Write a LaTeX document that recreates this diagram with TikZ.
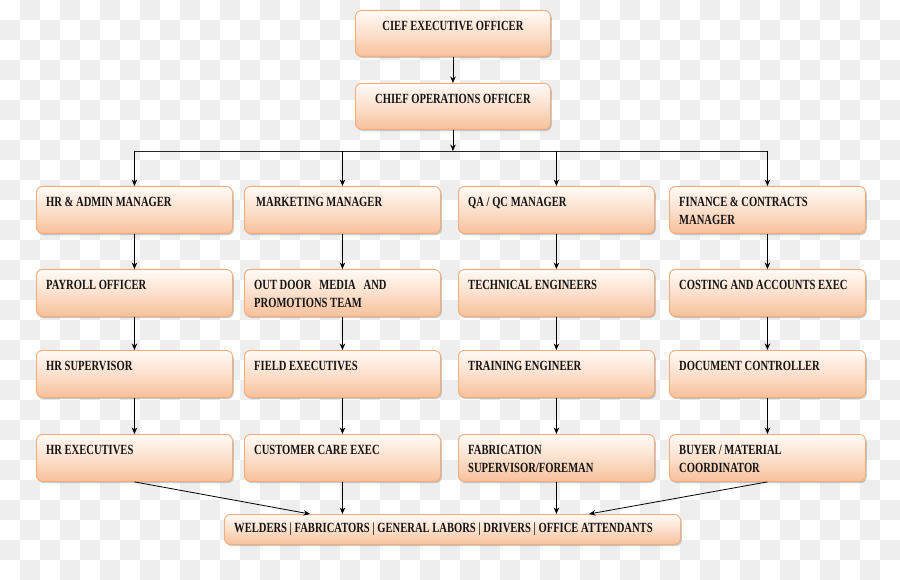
\documentclass[tikz,border=0pt]{standalone}
\usepackage{fontspec}
\newfontfamily\boxfont{Liberation Serif}[FakeStretch=0.755]
\usetikzlibrary{arrows.meta,shadows}
\definecolor{chk}{HTML}{EEEEEE}
\definecolor{boxline}{HTML}{F3AC7A}
\definecolor{boxtop}{HTML}{FFFAF6}
\definecolor{boxbot}{HTML}{F8C09A}
\definecolor{ink}{HTML}{141414}
\tikzset{
  x=1pt, y=-1pt,
  orgbox/.style={draw=boxline, line width=0.9pt, rounded corners=6pt,
    top color=boxtop, bottom color=boxbot, middle color=boxtop!55!boxbot,
    anchor=north west, inner sep=0pt, minimum width=196pt, minimum height=47pt,
    drop shadow={shadow xshift=1.3pt, shadow yshift=-1.6pt, fill=black!45, opacity=0.45}},
  lbl/.style={anchor=north west, inner sep=0pt, align=left, text=ink,
    font=\boxfont\bfseries\fontsize{14}{18}\selectfont},
  arr/.style={draw=black, line width=0.8pt, -{Stealth[length=6.5pt,width=5.5pt]}},
  ln/.style={draw=black!85, line width=0.8pt}
}
\newcommand{\TopRule}{\rule{0pt}{11pt}}
\begin{document}
\begin{tikzpicture}
\useasboundingbox (0,0) rectangle (900,580);
\fill[white] (0,0) rectangle (900,580);
\foreach \i in {0,...,44}{
  \foreach \j in {0,...,28}{
    \pgfmathtruncatemacro\chkpar{mod(\i+\j,2)}
    \ifnum\chkpar=1 \fill[chk] (\i*20,\j*20) rectangle ++(20,20);\fi
  }
}
% top boxes
\node[orgbox, minimum width=195pt, minimum height=46pt] (ceo) at (355,10) {};
\node[orgbox, minimum width=195pt, minimum height=46pt] (coo) at (355,83) {};
\node[lbl, anchor=north] (ceo-t) at ([yshift=-9pt]ceo.north) {\TopRule CIEF EXECUTIVE OFFICER};
\node[lbl, anchor=north] (coo-t) at ([yshift=-9pt]coo.north) {\TopRule CHIEF OPERATIONS OFFICER};
% row 1
\node[orgbox] (hr)  at (36,186) {};
\node[orgbox] (mk)  at (244,186) {};
\node[orgbox] (qa)  at (458,186) {};
\node[orgbox] (fin) at (669,186) {};
% row 2
\node[orgbox] (pay) at (36,269) {};
\node[orgbox] (out) at (244,269) {};
\node[orgbox] (tec) at (458,269) {};
\node[orgbox] (cst) at (669,269) {};
% row 3
\node[orgbox] (hrs) at (36,350) {};
\node[orgbox] (fld) at (244,350) {};
\node[orgbox] (trn) at (458,350) {};
\node[orgbox] (doc) at (669,350) {};
% row 4
\node[orgbox] (hre) at (36,434) {};
\node[orgbox] (cus) at (244,434) {};
\node[orgbox] (fab) at (458,434) {};
\node[orgbox] (buy) at (669,434) {};
% bottom
\node[orgbox, minimum width=456pt, minimum height=30pt] (wk) at (224,514) {};
% labels
\node[lbl] (hr-t)  at ([shift={(10pt,-9pt)}]hr.north west)  {\TopRule HR \& ADMIN MANAGER};
\node[lbl] (mk-t)  at ([shift={(12pt,-9pt)}]mk.north west)  {\TopRule MARKETING MANAGER};
\node[lbl] (qa-t)  at ([shift={(10pt,-9pt)}]qa.north west)  {\TopRule QA / QC MANAGER};
\node[lbl] (fin-t) at ([shift={(10pt,-9pt)}]fin.north west) {\TopRule FINANCE \& CONTRACTS\\MANAGER};
\node[lbl] (pay-t) at ([shift={(10pt,-9pt)}]pay.north west) {\TopRule PAYROLL OFFICER};
\node[lbl] (out-t) at ([shift={(10pt,-9pt)}]out.north west) {\TopRule OUT DOOR\ \ \ MEDIA\ \ \ AND\\PROMOTIONS TEAM};
\node[lbl] (tec-t) at ([shift={(10pt,-9pt)}]tec.north west) {\TopRule TECHNICAL ENGINEERS};
\node[lbl] (cst-t) at ([shift={(10pt,-9pt)}]cst.north west) {\TopRule COSTING AND ACCOUNTS EXEC};
\node[lbl] (hrs-t) at ([shift={(10pt,-9pt)}]hrs.north west) {\TopRule HR SUPERVISOR};
\node[lbl] (fld-t) at ([shift={(10pt,-9pt)}]fld.north west) {\TopRule FIELD EXECUTIVES};
\node[lbl] (trn-t) at ([shift={(10pt,-9pt)}]trn.north west) {\TopRule TRAINING ENGINEER};
\node[lbl] (doc-t) at ([shift={(10pt,-9pt)}]doc.north west) {\TopRule DOCUMENT CONTROLLER};
\node[lbl] (hre-t) at ([shift={(10pt,-9pt)}]hre.north west) {\TopRule HR EXECUTIVES};
\node[lbl] (cus-t) at ([shift={(10pt,-9pt)}]cus.north west) {\TopRule CUSTOMER CARE EXEC};
\node[lbl] (fab-t) at ([shift={(10pt,-9pt)}]fab.north west) {\TopRule FABRICATION\\SUPERVISOR/FOREMAN};
\node[lbl] (buy-t) at ([shift={(10pt,-9pt)}]buy.north west) {\TopRule BUYER / MATERIAL\\COORDINATOR};
\node[lbl] (wk-t)  at ([shift={(10pt,-7.5pt)}]wk.north west) {\TopRule WELDERS | FABRICATORS | GENERAL LABORS | DRIVERS | OFFICE ATTENDANTS};
% connectors
\coordinate (bus) at (453,151);
\draw[arr] (ceo.south) -- (coo.north);
\draw[arr] (coo.south) -- (coo.south |- bus);
\draw[ln] (hr.north |- bus) -- (fin.north |- bus);
\foreach \n in {hr,mk,qa,fin}{\draw[arr] (\n.north |- bus) -- (\n.north);}
\foreach \a/\b in {hr/pay,pay/hrs,hrs/hre,mk/out,out/fld,fld/cus,qa/tec,tec/trn,trn/fab,fin/cst,cst/doc,doc/buy}{
  \draw[arr] (\a.south) -- (\b.north);
}
\coordinate (wkl) at (310,514);
\coordinate (wkr) at (589,514);
\draw[arr] (hre.south) -- (wkl);
\draw[arr] (buy.south) -- (wkr);
\draw[arr] (cus.south) -- (cus.south |- wk.north);
\draw[arr] (fab.south) -- (fab.south |- wk.north);
\end{tikzpicture}
\end{document}
